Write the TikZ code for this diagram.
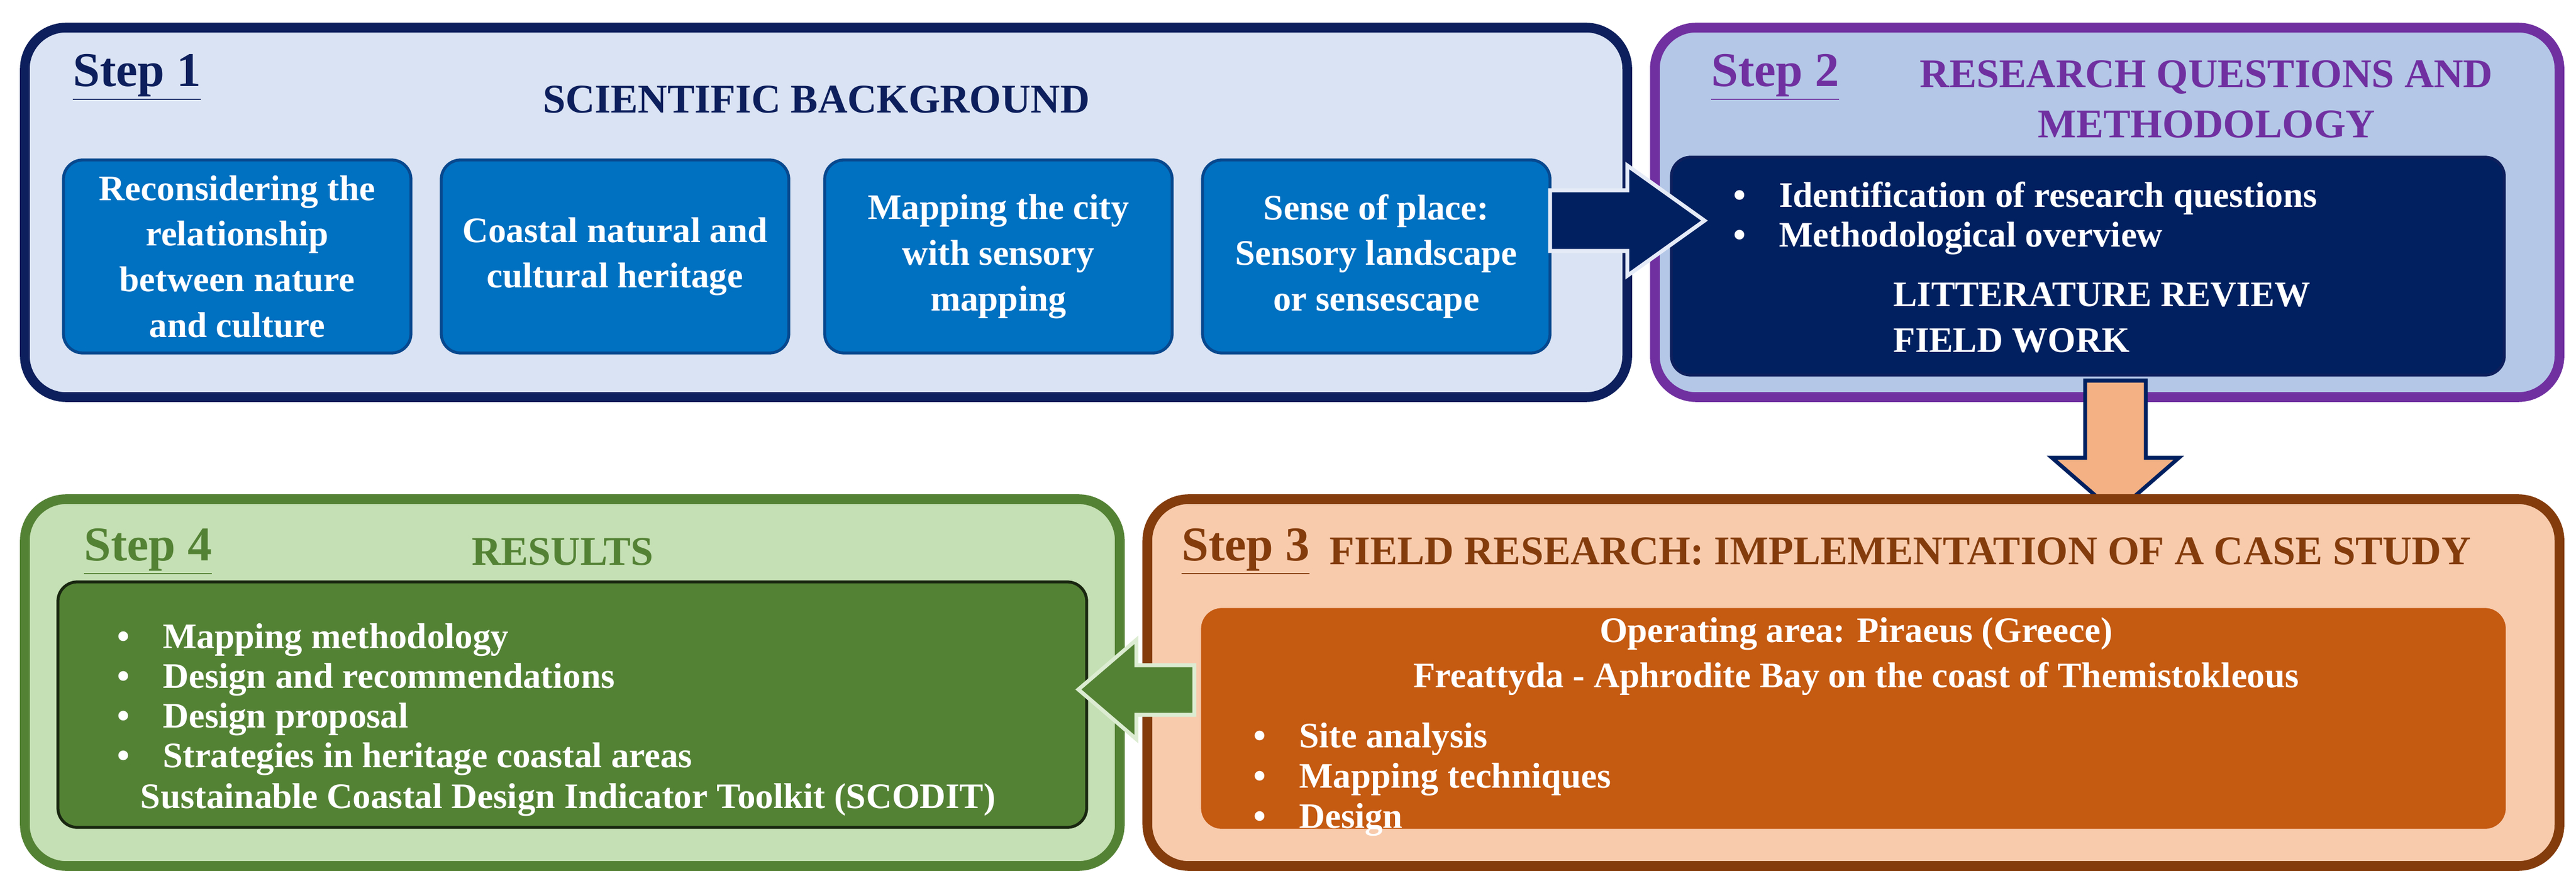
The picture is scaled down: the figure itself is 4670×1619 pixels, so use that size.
\documentclass[tikz,border=0pt]{standalone}
\usepackage{fontspec}
\setmainfont{Liberation Serif}
\begin{document}
\begin{tikzpicture}[x=0.01cm,y=-0.01cm,
  outer/.style={rounded corners=0.75cm,line width=5pt},
  inner/.style={rounded corners=0.35cm,line width=1.5pt},
  txt/.style={font=\fontsize{18.5}{23.5}\selectfont\bfseries,text=white,align=center},
  stp/.style={font=\fontsize{25}{30}\selectfont\bfseries,anchor=west},
  ttl/.style={font=\fontsize{21}{26}\selectfont\bfseries,align=center},
  bl/.style={font=\fontsize{18.5}{23.5}\selectfont\bfseries,text=white,anchor=west}]
\definecolor{navy}{HTML}{0D1F5C}
\definecolor{dnavy}{HTML}{002060}
\definecolor{lblue}{HTML}{DAE3F3}
\definecolor{mblue}{HTML}{0070C0}
\definecolor{purp}{HTML}{7030A0}
\definecolor{pblue}{HTML}{B4C7E7}
\definecolor{brn}{HTML}{843C0C}
\definecolor{peach}{HTML}{F8CBAD}
\definecolor{orng}{HTML}{C55A11}
\definecolor{lorng}{HTML}{F4B183}
\definecolor{grn}{HTML}{548235}
\definecolor{lgrn}{HTML}{C5E0B4}
\definecolor{dgrn}{HTML}{548235}
\useasboundingbox (0,0) rectangle (4670,1619);
% Step 1
\draw[outer,draw=navy,fill=lblue] (45,50) rectangle (2950,720);
\node[stp,text=navy] (s1) at (120,140) {\underline{Step 1}};
\node[ttl,text=navy] (t1) at (1480,180) {SCIENTIFIC BACKGROUND};
\foreach \a/\b/\t [count=\i] in {115/745/{Reconsidering the\\relationship\\between nature\\and culture},
  800/1430/{Coastal natural and\\cultural heritage},
  1495/2125/{Mapping the city\\with sensory\\mapping},
  2180/2810/{Sense of place:\\Sensory landscape\\or sensescape}}{
  \draw[inner,draw=navy!50!mblue,fill=mblue] (\a,290) rectangle (\b,640);
  \node[txt] (b\i) at ({(\a+\b)/2},465) {\t};
}
% Step 2
\draw[outer,draw=purp,fill=pblue] (3000,50) rectangle (4640,720);
\node[stp,text=purp] (s2) at (3090,140) {\underline{Step 2}};
\node[ttl,text=purp] (t2) at (4000,180) {RESEARCH QUESTIONS AND\\METHODOLOGY};
\draw[inner,draw=navy,fill=dnavy] (3030,285) rectangle (4540,680);
\node[bl] at (3130,360) {•\hspace{0.6cm}Identification of research questions};
\node[bl] at (3130,432) {•\hspace{0.6cm}Methodological overview};
\node[txt,align=left,anchor=north west] (lr) at (3420,500) {LITTERATURE REVIEW\\FIELD WORK};
% arrow 1
\draw[line width=2pt,draw=lblue!70!white,fill=dnavy] (2810,345)--(2950,345)--(2950,300)--(3090,400)--(2950,500)--(2950,455)--(2810,455)--cycle;
% arrow 2
\draw[line width=2pt,draw=dnavy,fill=lorng] (3780,690)--(3890,690)--(3890,830)--(3950,830)--(3835,930)--(3720,830)--(3780,830)--cycle;
% Step 3
\draw[outer,draw=brn,fill=peach] (2080,905) rectangle (4640,1570);
\node[stp,text=brn] (s3) at (2130,1000) {\underline{Step 3}};
\node[ttl,text=brn] (t3) at (3445,1000) {FIELD RESEARCH: IMPLEMENTATION OF A CASE STUDY};
\draw[inner,draw=orng,fill=orng] (2180,1105) rectangle (4540,1500);
\node[txt] (op) at (3365,1190) {Operating area: Piraeus (Greece)\\Freattyda - Aphrodite Bay on the coast of Themistokleous};
\node[bl] at (2260,1340) {•\hspace{0.6cm}Site analysis};
\node[bl] at (2260,1413) {•\hspace{0.6cm}Mapping techniques};
\node[bl] at (2260,1486) {•\hspace{0.6cm}Design};
% Step 4
\draw[outer,draw=grn,fill=lgrn] (45,905) rectangle (2030,1570);
\node[stp,text=grn] (s4) at (140,1000) {\underline{Step 4}};
\node[ttl,text=grn] (t4) at (1020,1000) {RESULTS};
\draw[inner,draw=black!70!grn,fill=dgrn] (105,1055) rectangle (1970,1500);
\node[bl] at (200,1160) {•\hspace{0.6cm}Mapping methodology};
\node[bl] at (200,1232) {•\hspace{0.6cm}Design and recommendations};
\node[bl] at (200,1304) {•\hspace{0.6cm}Design proposal};
\node[bl] at (200,1376) {•\hspace{0.6cm}Strategies in heritage coastal areas};
\node[txt] (sc) at (1030,1450) {Sustainable Coastal Design Indicator Toolkit (SCODIT)};
% arrow 3
\draw[line width=2pt,draw=lgrn!60!white,fill=dgrn] (2165,1206)--(2060,1206)--(2060,1160)--(1955,1250)--(2060,1340)--(2060,1296)--(2165,1296)--cycle;
\end{tikzpicture}
\end{document}
